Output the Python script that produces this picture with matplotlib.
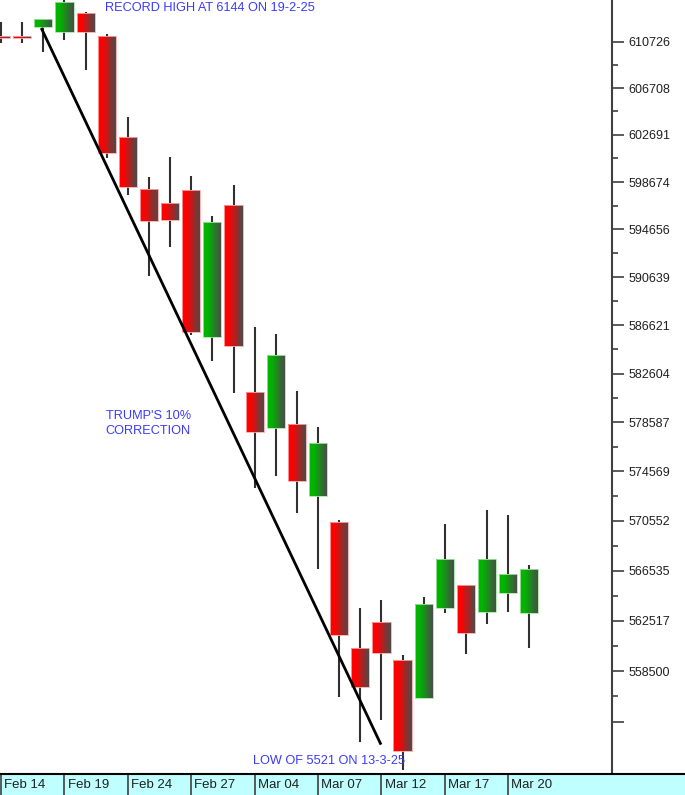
import matplotlib
matplotlib.use('Agg')
import matplotlib.pyplot as plt
import numpy as np
from matplotlib.ticker import FixedLocator, NullFormatter
from matplotlib.colors import to_rgb

plt.rcParams['font.family'] = ['Liberation Sans', 'DejaVu Sans']

## Daily candles, Feb 14 to Mar 24 (index points)
opens  = [6112.5, 6112.3, 6120.3, 6115.4, 6132.5, 6112.2, 6024.7, 5981.1, 5969.2, 5979.9,
          5856.2, 5967.2, 5810.6, 5780.9, 5784.5, 5725.6, 5704.9, 5603.5, 5624.3, 5593.5,
          5564.1, 5635.0, 5653.4, 5632.0, 5647.0, 5631.0]
highs  = [6124.6, 6124.4, 6127.0, 6144.0, 6133.1, 6113.7, 6042.0, 5990.8, 6007.8, 5991.9,
          5957.9, 5984.2, 5864.4, 5858.9, 5811.4, 5781.7, 5705.8, 5635.5, 5641.7, 5597.7,
          5644.3, 5702.8, 5653.6, 5714.2, 5710.2, 5669.5]
lows   = [6105.9, 6105.7, 6098.1, 6108.7, 6082.8, 6007.2, 5975.7, 5907.4, 5931.5, 5858.1,
          5836.7, 5809.8, 5731.9, 5742.0, 5711.5, 5666.3, 5564.7, 5528.7, 5546.3, 5507.4,
          5563.5, 5631.0, 5598.3, 5622.2, 5632.0, 5603.1]
closes = [6110.5, 6110.3, 6126.7, 6142.0, 6115.4, 6011.2, 5982.3, 5953.7, 5954.5, 5860.3,
          5952.6, 5848.9, 5777.6, 5841.5, 5737.8, 5769.1, 5613.7, 5572.1, 5599.1, 5522.2,
          5638.5, 5674.5, 5615.1, 5674.5, 5662.8, 5666.8]

## Trend line from the record high area to the low
trend_x = [1.93, 17.95]
trend_y = [6118.0, 5528.0]

## Axis labels
date_pos = [0, 3, 6, 9, 12, 15, 18, 21, 24]
date_labels = ['Feb 14', 'Feb 19', 'Feb 24', 'Feb 27', 'Mar 04', 'Mar 07', 'Mar 12', 'Mar 17', 'Mar 20']
ytick_vals = [554483, 558500, 562517, 566535, 570552, 574569, 578587, 582604,
              586621, 590639, 594656, 598674, 602691, 606708, 610726]
ytick_labels = [''] + [str(v) for v in ytick_vals[1:]]

scale = 100.0
W, H = 685, 795
fig = plt.figure(figsize=(W / 100, H / 100), dpi=100)
ax = fig.add_axes([0, 21 / H, 612 / W, 774 / H])

x0, x1 = -0.05, 28.91
ax.set_xlim(x0, x1)
ax.set_yscale('log')
ax.set_ylim(550400, 614350)

# wicks
for i in range(len(opens)):
    ax.plot([i, i], [lows[i] * scale, highs[i] * scale], color='#303030', lw=1.5, zorder=1,
            solid_capstyle='butt')

# bodies with a left-to-right shade into gray
gray = np.array(to_rgb('#4a4a4a'))
red = np.array(to_rgb('#ff0000'))
green = np.array(to_rgb('#00b400'))
body_w = 0.86
nstrip = 12
for i in range(len(opens)):
    base = green if closes[i] > opens[i] else red
    lo = min(opens[i], closes[i]) * scale
    hi = max(opens[i], closes[i]) * scale
    sw = body_w / nstrip
    for k in range(nstrip):
        t = (k + 0.5) / nstrip
        t = max(0.0, (t - 0.25) / 0.75)
        col = base * (1 - t) + gray * t
        ax.bar(i - body_w / 2 + k * sw, hi - lo, width=sw * 1.02, bottom=lo, align='edge',
               color=col, lw=0, zorder=2)
    ax.bar(i, hi - lo, width=body_w, bottom=lo, fill=False,
           edgecolor=tuple(base * 0.35 + 0.65), lw=0.6, zorder=3)

ax.plot(trend_x, np.array(trend_y) * scale, color='black', lw=2, zorder=4)

# y axis on the right
ax.yaxis.tick_right()
ax.set_yticks(ytick_vals)
ax.set_yticklabels(ytick_labels)
minor = [(a + b) / 2 for a, b in zip(ytick_vals[:-1], ytick_vals[1:])]
ax.yaxis.set_minor_locator(FixedLocator(minor))
ax.yaxis.set_minor_formatter(NullFormatter())
ax.tick_params(axis='y', which='major', length=8.6, width=1.2, color='#404040',
               labelsize=9, labelcolor='#202020', pad=3)
ax.tick_params(axis='y', which='minor', length=4.3, width=1.2, color='#404040')
ax.set_xticks([])
for s in ['left', 'top', 'bottom']:
    ax.spines[s].set_visible(False)
ax.spines['right'].set_color('#404040')
ax.spines['right'].set_linewidth(1.5)

# annotations
txt_col = '#3a3aff'
ax.text(0.1716, 0.9897, 'RECORD HIGH AT 6144 ON 19-2-25', transform=ax.transAxes,
        color=txt_col, fontsize=9.2, va='center', ha='left')
ax.text(0.1727, 0.4528, "TRUMP'S 10%\nCORRECTION", transform=ax.transAxes,
        color=txt_col, fontsize=9.2, va='center', ha='left', linespacing=1.35)
ax.text(0.4134, 0.0168, 'LOW OF 5521 ON 13-3-25', transform=ax.transAxes,
        color=txt_col, fontsize=9.2, va='center', ha='left')

# date strip at the bottom
strip = fig.add_axes([0, 0, 1, 21 / H])
strip.set_xlim(x0, x0 + (x1 - x0) * W / 612)
strip.set_ylim(0, 1)
strip.set_facecolor('#c0ffff')
strip.set_xticks([])
strip.set_yticks([])
for s in ['left', 'right', 'bottom']:
    strip.spines[s].set_visible(False)
strip.spines['top'].set_color('black')
strip.spines['top'].set_linewidth(1.5)
for p, lab in zip(date_pos, date_labels):
    strip.axvline(p, color='#404040', lw=1.2)
    strip.text(p + 0.15, 0.47, lab, fontsize=9.5, va='center', ha='left', color='#202020')

fig.savefig('out.png', dpi=100)
